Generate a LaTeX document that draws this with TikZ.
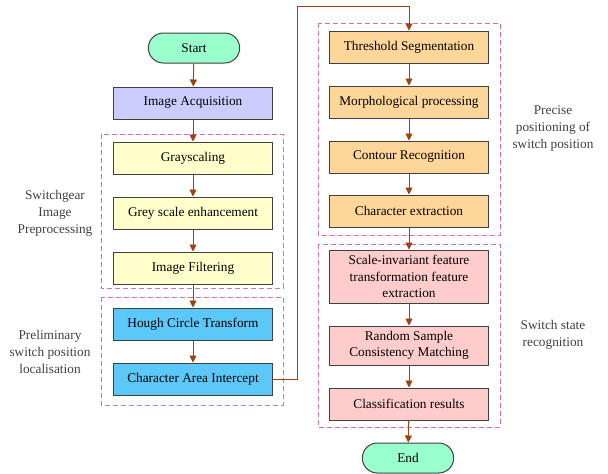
\documentclass[tikz,border=0pt]{standalone}
\usepackage{fontspec}
\setmainfont{Liberation Serif}
\usetikzlibrary{arrows.meta,shapes.misc}
\definecolor{arrowc}{HTML}{A0400F}
\definecolor{grpc}{HTML}{D070B0}
\definecolor{edgec}{HTML}{404040}
\definecolor{cstart}{HTML}{99FFCC}
\definecolor{cacq}{HTML}{CCCCFF}
\definecolor{cyel}{HTML}{FFFFCC}
\definecolor{cblue}{HTML}{5CC8F7}
\definecolor{corange}{HTML}{FFD699}
\definecolor{cpink}{HTML}{FFCCCC}
\tikzset{
  box/.style={draw=edgec, line width=1pt, minimum width=159pt, minimum height=32pt, inner sep=1pt, align=center, font=\fontsize{13.3}{15}\selectfont},
  term/.style={draw=edgec, line width=1pt, rounded rectangle, minimum width=98pt, minimum height=30pt, fill=cstart, font=\fontsize{13.3}{15}\selectfont},
  grp/.style={draw=grpc, dashed, dash pattern=on 5pt off 3pt, line width=0.9pt},
  lbl/.style={align=center, font=\fontsize{13.3}{17}\selectfont, text=black!75},
  arr/.style={draw=arrowc, line width=0.9pt, -{Triangle[length=7pt,width=7pt]}},
}
\begin{document}
\begin{tikzpicture}[x=1pt,y=-1pt]
\useasboundingbox (0,0) rectangle (608,474);
\fill[white] (0,0) rectangle (608,474);
% groups
\draw[grp] (101,134) rectangle (283,288);
\draw[grp] (101,297) rectangle (283,405);
\draw[grp] (318,23) rectangle (500,235);
\draw[grp] (318,244) rectangle (500,427);
% left column
\node[term] (start) at (194,48) {Start};
\node[box, fill=cacq] (acq) at (193,103) {Image Acquisition};
\node[box, fill=cyel] (gray) at (193,158) {Grayscaling};
\node[box, fill=cyel] (enh) at (193,213) {Grey scale enhancement};
\node[box, fill=cyel] (filt) at (193,268) {Image Filtering};
\node[box, fill=cblue] (hough) at (193,324) {Hough Circle Transform};
\node[box, fill=cblue] (char) at (193,379) {Character Area Intercept};
% right column
\node[box, fill=corange] (thr) at (409,47) {Threshold Segmentation};
\node[box, fill=corange] (morph) at (409,102) {Morphological processing};
\node[box, fill=corange] (cont) at (409,157) {Contour Recognition};
\node[box, fill=corange] (cext) at (409,211) {Character extraction};
\node[box, fill=cpink, minimum height=53pt, font=\fontsize{13.3}{16.5}\selectfont] (sift) at (409,276.5) {Scale-invariant feature\\transformation feature\\extraction};
\node[box, fill=cpink, minimum height=39pt, font=\fontsize{13.3}{16.5}\selectfont] (ransac) at (409,345.5) {Random Sample\\Consistency Matching};
\node[box, fill=cpink] (cls) at (409,404) {Classification results};
\node[term] (end) at (408,458) {End};
% labels
\node[lbl] (l1) at (55,213) {Switchgear\\Image\\Preprocessing};
\node[lbl] (l2) at (50,352) {Preliminary\\switch position\\localisation};
\node[lbl] (l3) at (553,129) {Precise\\positioning of\\switch position};
\node[lbl] (l4) at (553,335) {Switch state\\recognition};
% arrows
\draw[arr] (start) -- (acq);
\draw[arr] (acq) -- (gray);
\draw[arr] (gray) -- (enh);
\draw[arr] (enh) -- (filt);
\draw[arr] (filt) -- (hough);
\draw[arr] (hough) -- (char);
\coordinate (c1) at (297,379);
\coordinate (c2) at (297,6);
\coordinate (c3) at (409,6);
\draw[arr] (char.east) -- (c1) -- (c2) -- (c3) -- (thr.north);
\draw[arr] (thr) -- (morph);
\draw[arr] (morph) -- (cont);
\draw[arr] (cont) -- (cext);
\draw[arr] (cext) -- (sift);
\draw[arr] (sift) -- (ransac);
\draw[arr] (ransac) -- (cls);
\draw[arr] (cls) -- (end);
\end{tikzpicture}
\end{document}
